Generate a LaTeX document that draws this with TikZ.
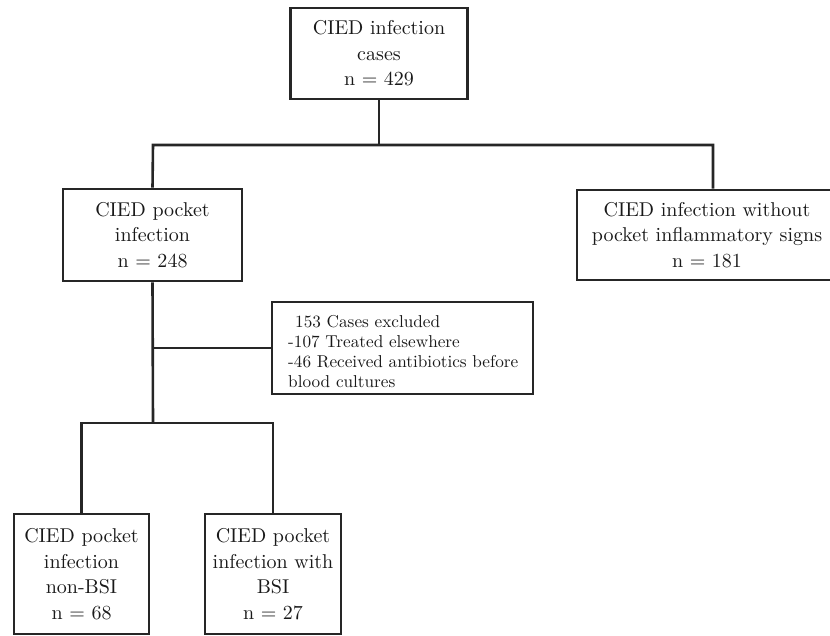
\documentclass[tikz,border=0pt]{standalone}
\usepackage{fontspec}
\newfontfamily\lmten{lmroman10-regular}[Extension=.otf]
\begin{document}
\begin{tikzpicture}[x=1pt,y=-1pt,
  box/.style={draw=black!85,line width=2.6pt,rectangle,inner sep=0pt,align=center,
    text=black!90,font=\lmten\fontsize{20}{25.5}\selectfont},
  conn/.style={draw=black!85,line width=2.6pt}]
\useasboundingbox (0,0) rectangle (830,636);
\node[box,minimum width=177pt,minimum height=91pt] (top) at (379,53.5)
  {CIED infection\\cases\\n = 429};
\node[box,minimum width=179pt,minimum height=92pt] (midL) at (152.5,235)
  {CIED pocket\\infection\\n = 248};
\node[box,minimum width=260pt,minimum height=90pt] (right) at (707,235)
  {CIED infection without\\pocket inflammatory signs\\n = 181};
\node[box,minimum width=261pt,minimum height=92pt] (excl) at (402.5,348) {};
\node[text=black!90,font=\lmten\fontsize{17.2}{20}\selectfont,align=left,inner sep=0pt,anchor=west]
  (excltxt) at (288,352)
  {\hspace{7pt}153 Cases excluded\\-107 Treated elsewhere\\-46 Received antibiotics before\\blood cultures};
\node[box,minimum width=135pt,minimum height=120pt] (bl) at (81.5,574)
  {CIED pocket\\infection\\non-BSI\\n = 68};
\node[box,minimum width=136pt,minimum height=120pt] (brb) at (273,574)
  {CIED pocket\\infection with\\BSI\\n = 27};
\coordinate (hL) at (153,145);
\coordinate (hR) at (713,145);
\coordinate (hB) at (153,423);
\draw[conn] (top.south) -- (top.south |- hL);
\draw[conn] (midL.north) -- (hL) -- (hR) -- (hR |- right.north);
\draw[conn] (midL.south) -- (hB);
\draw[conn] (midL.south |- excl.west) -- (excl.west);
\draw[conn] (bl.north) |- (hB) -| (brb.north);
\end{tikzpicture}
\end{document}
